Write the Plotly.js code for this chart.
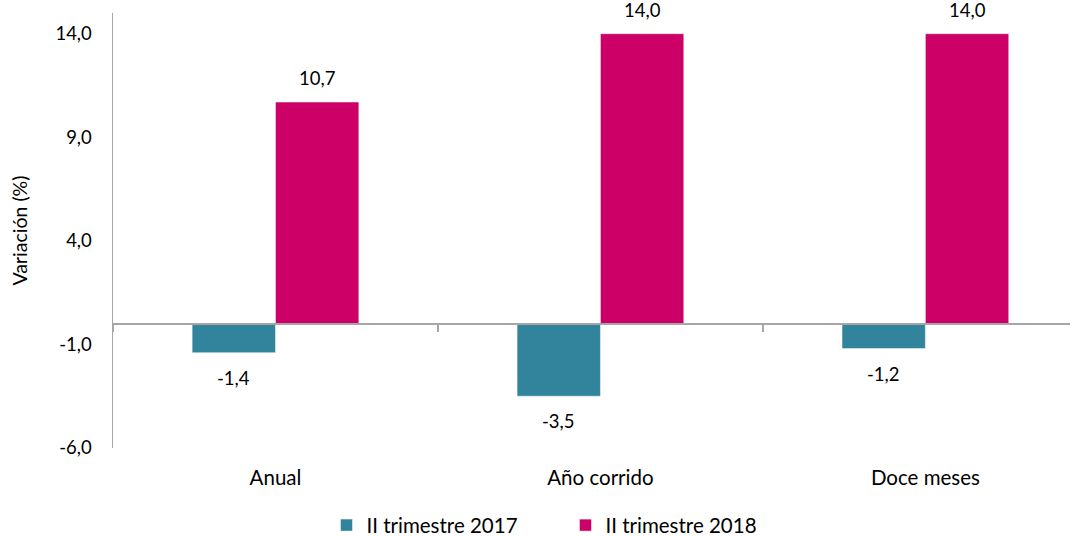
<!DOCTYPE html>
<html>
<head>
<meta charset="utf-8">
<script src="https://cdn.plot.ly/plotly-3.0.1.min.js"></script>
<style>html,body{margin:0;padding:0;background:#fff;}#chart{width:1073px;height:536px;}</style>
</head>
<body>
<div id="chart"></div>
<script>
const categories = ["Anual", "Año corrido", "Doce meses"];
const series2017 = [-1.4, -3.5, -1.2];
const series2018 = [10.7, 14.0, 14.0];
const seriesNames = ["II trimestre 2017", "II trimestre 2018"];
const yTicks = [-6, -1, 4, 9, 14];

const colors = ["#31849B", "#CC0066"];
const FONT = "Lato, Noto Sans, sans-serif";
const FS = 18.5;
const FS_TEXT = 20.5;
const bargap = 0.487;
const half = (1 - bargap) / 4;

const fmt = v => v.toFixed(1).replace(".", ",");

const traces = [series2017, series2018].map((vals, k) => ({
  type: "bar",
  name: seriesNames[k],
  x: categories,
  y: vals,
  marker: {color: colors[k], line: {color: "rgba(255,255,255,0.6)", width: 0.8}},
  hoverinfo: "skip"
}));

const annotations = [];
[series2017, series2018].forEach((vals, k) => {
  vals.forEach((v, i) => {
    annotations.push({
      x: i + (k === 0 ? -half : half),
      y: v,
      xref: "x", yref: "y",
      text: fmt(v),
      showarrow: false,
      yshift: v >= 0 ? 24 : -25,
      font: {family: FONT, size: FS, color: "#000"}
    });
  });
});

const layout = {
  width: 1073, height: 536,
  margin: {l: 113, r: 3, t: 13, b: 88},
  paper_bgcolor: "#fff", plot_bgcolor: "#fff",
  barmode: "group",
  bargap: bargap,
  bargroupgap: 0,
  font: {family: FONT, size: FS, color: "#000"},
  xaxis: {
    type: "category",
    range: [-0.5, 2.445],
    anchor: "free",
    position: 6 / 21,
    showline: true, linecolor: "#A6A6A6", linewidth: 2,
    ticks: "outside", tickson: "boundaries", ticklen: 7, tickcolor: "#A6A6A6", tickwidth: 1.5,
    ticklabelstandoff: 136,
    showgrid: false, zeroline: false,
    tickfont: {family: FONT, size: FS_TEXT, color: "#000"}
  },
  yaxis: {
    range: [-6, 15],
    tickvals: yTicks,
    ticktext: yTicks.map(fmt),
    showline: true, linecolor: "#A6A6A6", linewidth: 1.5,
    ticks: "", ticklabelstandoff: 16,
    showgrid: false, zeroline: false,
    tickfont: {family: FONT, size: FS, color: "#000"},
    title: {text: "Variación (%)", font: {family: FONT, size: FS_TEXT - 1, color: "#000"}, standoff: 22}
  },
  showlegend: true,
  legend: {
    orientation: "h",
    xref: "container", yref: "container",
    x: 0.527, xanchor: "center",
    y: 0.02, yanchor: "middle",
    font: {family: FONT, size: FS_TEXT, color: "#000"},
    entrywidth: 194, entrywidthmode: "pixels",
    itemclick: false
  },
  annotations: annotations
};

Plotly.newPlot("chart", traces, layout, {displayModeBar: false, staticPlot: true});
</script>
</body>
</html>
